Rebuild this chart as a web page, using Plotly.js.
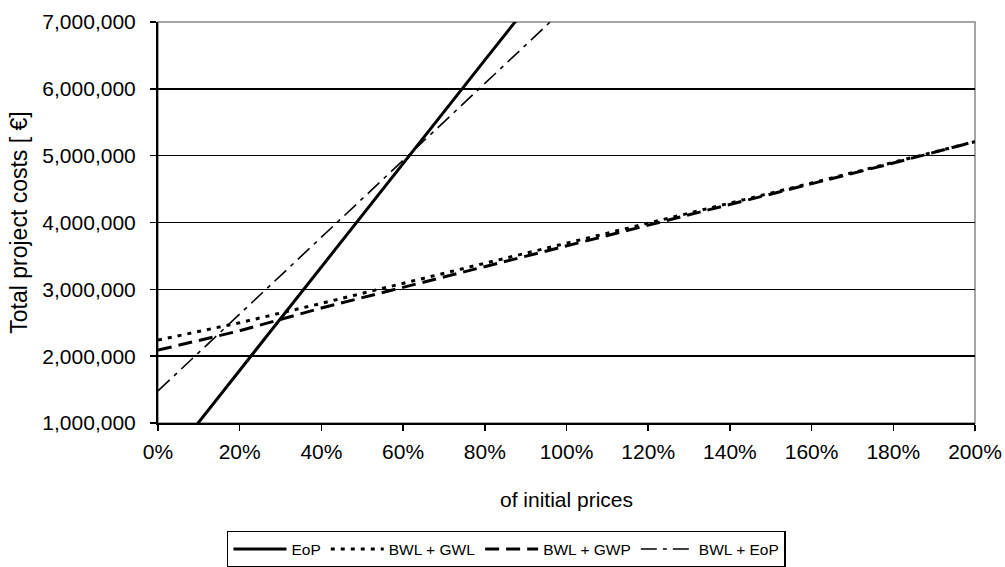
<!DOCTYPE html>
<html>
<head>
<meta charset="utf-8">
<script src="https://cdn.plot.ly/plotly-3.0.1.min.js"></script>
<style>html,body{margin:0;padding:0;background:#fff;}#chart{width:1005px;height:567px;}</style>
</head>
<body>
<div id="chart"></div>
<script>
// x values: percent of initial prices
const pricePct = [0, 20, 40, 60, 80, 100, 120, 140, 160, 180, 200];
// Total project costs [€]
const eop    = [240000, 1790000, 3340000, 4880000, 6430000, 7970000, 9520000, 11060000, 12610000, 14150000, 15700000];
const bwlGwl = [2240000, 2500000, 2790000, 3090000, 3380000, 3680000, 3990000, 4290000, 4590000, 4900000, 5210000];
const bwlGwp = [2090000, 2380000, 2720000, 3030000, 3330000, 3640000, 3950000, 4270000, 4580000, 4890000, 5210000];
const bwlEop = [1480000, 2630000, 3780000, 4930000, 6080000, 7230000, 8380000, 9530000, 10680000, 11830000, 12980000];
const seriesNames = ["EoP", "BWL + GWL", "BWL + GWP", "BWL + EoP"];

const font = "Liberation Sans, Arial, sans-serif";

const traces = [
  {x: pricePct, y: eop, name: seriesNames[0], mode: "lines", line: {color: "#000", width: 3, dash: "solid"}},
  {x: pricePct, y: bwlGwl, name: seriesNames[1], mode: "lines", line: {color: "#000", width: 3, dash: "4px,6px"}},
  {x: pricePct, y: bwlGwp, name: seriesNames[2], mode: "lines", line: {color: "#000", width: 3, dash: "14px,7px"}},
  {x: pricePct, y: bwlEop, name: seriesNames[3], mode: "lines", line: {color: "#000", width: 1.6, dash: "16px,6px,4px,6px"}}
];

const layout = {
  width: 1005, height: 567,
  margin: {l: 158, r: 30, t: 22, b: 144, autoexpand: false},
  paper_bgcolor: "#fff", plot_bgcolor: "#fff",
  font: {family: font, color: "#000", size: 21},
  showlegend: true,
  legend: {
    orientation: "h", xref: "paper", x: 0.4265, xanchor: "center",
    yref: "container", y: 0.0635, yanchor: "top",
    bordercolor: "#000", borderwidth: 1.5, bgcolor: "#fff",
    font: {family: font, size: 15.5, color: "#000"},
    itemwidth: 53, tracegroupgap: 0
  },
  xaxis: {
    range: [0, 200], dtick: 20, tick0: 0, ticksuffix: "%",
    showgrid: false, zeroline: false,
    showline: true, linecolor: "#000", linewidth: 2,
    ticks: "outside", ticklen: 6, tickcolor: "#000", tickwidth: 1.5,
    ticklabelstandoff: 3,
    tickfont: {family: font, size: 21, color: "#000"},
    title: {text: "of initial prices", font: {family: font, size: 21, color: "#000"}, standoff: 30}
  },
  yaxis: {
    range: [1000000, 7000000], dtick: 1000000, tickformat: ",d",
    showgrid: true, gridcolor: "#000", gridwidth: 1.5, zeroline: false,
    showline: true, linecolor: "#000", linewidth: 2,
    ticks: "outside", ticklen: 6, tickcolor: "#000", tickwidth: 1.5,
    ticklabelstandoff: 10,
    tickfont: {family: font, size: 21, color: "#000"},
    title: {text: "Total project costs [ €]", font: {family: font, size: 23, color: "#000"}, standoff: 8}
  },
  shapes: [
    {type: "rect", xref: "paper", yref: "paper", x0: 0, x1: 1, y0: 0, y1: 1,
     line: {color: "#888", width: 1.5}, layer: "below"}
  ]
};

Plotly.newPlot("chart", traces, layout, {displayModeBar: false, staticPlot: true});
</script>
</body>
</html>
